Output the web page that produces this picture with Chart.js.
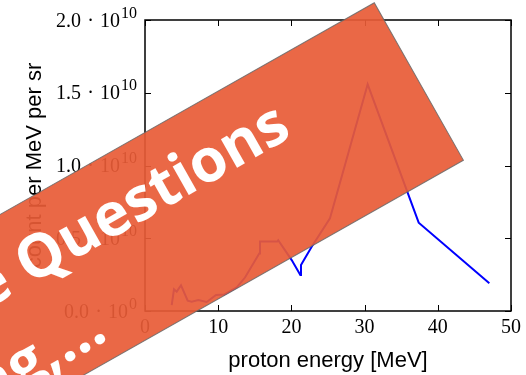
<!DOCTYPE html>
<html>
<head>
<meta charset="utf-8">
<script src="https://cdn.jsdelivr.net/npm/chart.js@4/dist/chart.umd.min.js"></script>
<style>
  html, body { margin: 0; padding: 0; background: #fff; overflow: hidden; }
  canvas { display: block; }
</style>
</head>
<body>
<canvas id="spectrum" width="526" height="375"></canvas>
<script>
// Proton spectrum: energy in MeV and counts per MeV per steradian
const energyMeV = [3.65, 3.96, 4.33, 4.92, 5.83, 6.38, 7.28, 8.43, 9.70, 10.8,
                   12.53, 13.66, 15.61, 15.71, 18.07, 18.2, 20.04, 21.22, 21.31,
                   22.77, 25.27, 30.42, 37.39, 47.04];
const countPerMeVsr = [0.41e9, 1.49e9, 1.33e9, 1.77e9, 0.71e9, 0.64e9, 0.76e9, 0.62e9, 1.10e9, 1.13e9,
                       1.63e9, 2.30e9, 3.96e9, 4.77e9, 4.77e9, 4.86e9, 3.50e9, 2.47e9, 3.16e9,
                       4.42e9, 6.37e9, 15.58e9, 6.07e9, 1.90e9];

// y tick labels written as mantissa · 10^exponent
const yTickMantissas = ['0.0', '0.5', '1.0', '1.5', '2.0'];
const yTickExponents = ['0', '10', '10', '10', '10'];

const xAxisTitle = 'proton energy [MeV]';
const yAxisTitle = 'count per MeV per sr';

// overlay ribbon text
const ribbonLines = ['More Questions', 'Loading,...'];

const serif = '"Liberation Serif", "DejaVu Serif", serif';
const sans = '"Liberation Sans", Arial, sans-serif';

// Box frame, inward tick marks on all four sides and the y tick labels
const framePlugin = {
  id: 'frame',
  afterDatasetsDraw(chart) {
    const { ctx, chartArea: a, scales: { x, y } } = chart;
    const tick = 6;
    ctx.save();
    ctx.strokeStyle = '#000';
    ctx.lineWidth = 1;
    x.ticks.forEach(t => {
      const px = Math.round(x.getPixelForValue(t.value)) + 0.5;
      ctx.beginPath();
      ctx.moveTo(px, a.bottom); ctx.lineTo(px, a.bottom - tick);
      ctx.moveTo(px, a.top); ctx.lineTo(px, a.top + tick);
      ctx.stroke();
    });
    y.ticks.forEach(t => {
      const py = Math.round(y.getPixelForValue(t.value)) + 0.5;
      ctx.beginPath();
      ctx.moveTo(a.left, py); ctx.lineTo(a.left + tick, py);
      ctx.moveTo(a.right, py); ctx.lineTo(a.right - tick, py);
      ctx.stroke();
    });
    ctx.lineWidth = 1.5;
    ctx.strokeRect(a.left, a.top, a.right - a.left, a.bottom - a.top);

    // y tick labels with superscript exponent
    ctx.fillStyle = '#000';
    ctx.textAlign = 'right';
    ctx.textBaseline = 'alphabetic';
    const right = a.left - 8;
    y.ticks.forEach((t, i) => {
      const base = y.getPixelForValue(t.value) + 6.5;
      ctx.font = '16px ' + serif;
      ctx.fillText(yTickExponents[i], right, base - 9);
      let px = right - ctx.measureText(yTickExponents[i]).width - 1;
      ctx.font = '20px ' + serif;
      ctx.fillText('10', px, base);
      px -= ctx.measureText('10').width;
      ctx.textAlign = 'center';
      ctx.fillText('\u00B7', px - 9.5, base);
      ctx.textAlign = 'right';
      ctx.fillText(yTickMantissas[i], px - 19, base);
    });
    ctx.restore();
  },
  afterDraw(chart) {
    // tilted ribbon laid over the figure
    const ctx = chart.ctx;
    const ang = 29.5 * Math.PI / 180;
    const w = 181, len = 760;
    ctx.save();
    ctx.translate(374.3, 2.7);
    ctx.rotate(-ang);
    ctx.fillStyle = 'rgba(232,91,54,0.92)';
    ctx.fillRect(-len, 0, len, w);
    ctx.strokeStyle = 'rgba(105,105,105,0.85)';
    ctx.lineWidth = 1;
    ctx.strokeRect(-len, 0, len, w);
    ctx.fillStyle = '#fff';
    ctx.font = 'bold 60px "Open Sans", "Liberation Sans", sans-serif';
    ctx.textAlign = 'right';
    ctx.textBaseline = 'alphabetic';
    ctx.fillText(ribbonLines[0], -136, 76);
    ctx.fillText(ribbonLines[1], -396, 162);
    ctx.restore();
  }
};

new Chart(document.getElementById('spectrum'), {
  type: 'line',
  data: {
    datasets: [{
      data: energyMeV.map((e, i) => ({ x: e, y: countPerMeVsr[i] })),
      borderColor: '#0000ff',
      borderWidth: 2,
      pointRadius: 0,
      tension: 0,
      fill: false
    }]
  },
  options: {
    responsive: false,
    animation: false,
    devicePixelRatio: 1,
    layout: { padding: { left: 0, top: 20, right: 15, bottom: 0 } },
    plugins: { legend: { display: false }, tooltip: { enabled: false } },
    scales: {
      x: {
        type: 'linear', min: 0, max: 50,
        ticks: { stepSize: 10, maxRotation: 0, padding: 5, color: '#000',
                 font: { family: serif, size: 20 } },
        grid: { display: false, drawTicks: false },
        border: { display: false },
        title: { display: true, text: xAxisTitle, color: '#000',
                 font: { family: sans, size: 22 }, padding: { top: 0, bottom: 1 } },
        afterFit(s) { s.height = 64; }
      },
      y: {
        type: 'linear', min: 0, max: 2e10,
        ticks: { stepSize: 5e9, display: false },
        grid: { display: false, drawTicks: false },
        border: { display: false },
        title: { display: true, text: yAxisTitle, color: '#000',
                 font: { family: sans, size: 22 }, padding: { top: 21.6, bottom: 0 } },
        afterFit(s) { s.width = 145; }
      }
    }
  },
  plugins: [framePlugin]
});
</script>
</body>
</html>
